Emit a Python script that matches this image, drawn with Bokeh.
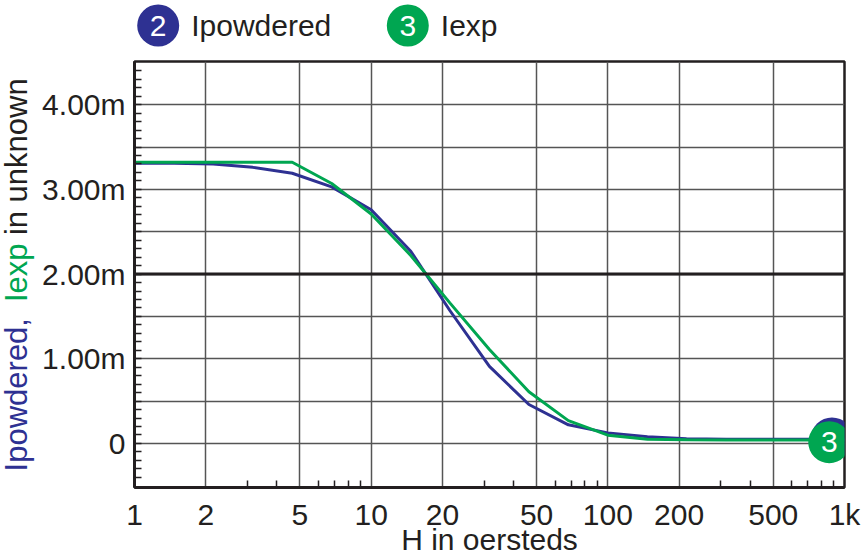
import math
from bokeh.plotting import figure
from bokeh.layouts import column, row
from bokeh.models import Range1d, FixedTicker, Span, ColumnDataSource
from bokeh.core.properties import value
from bokeh.embed import file_html
from bokeh.resources import INLINE

# ---- data ----
H = [1, 1.47, 2.15, 3.16, 4.64, 6.81, 10, 14.7, 21.5, 31.6, 46.4, 68.1,
     100, 147, 215, 316, 464, 681, 1000]
i_powdered = [3.31, 3.31, 3.30, 3.26, 3.19, 3.03, 2.76, 2.27, 1.57, 0.91, 0.46,
              0.22, 0.125, 0.08, 0.055, 0.05, 0.05, 0.05, 0.05]
i_exp = [3.32, 3.32, 3.32, 3.32, 3.32, 3.07, 2.71, 2.22, 1.66, 1.11, 0.61,
         0.27, 0.098, 0.05, 0.044, 0.04, 0.04, 0.04, 0.04]

series_names = ["Ipowdered", "Iexp"]
series_numbers = ["2", "3"]
end_marker_x = [885, 862]
end_marker_y = [0.06, 0.015]

x_ticks = [1, 2, 5, 10, 20, 50, 100, 200, 500, 1000]
x_tick_labels = ["1", "2", "5", "10", "20", "50", "100", "200", "500", "1k"]
x_minor_ticks = [3, 4, 6, 7, 8, 9, 30, 40, 60, 70, 80, 90,
                 300, 400, 600, 700, 800, 900]
y_ticks = [0, 1, 2, 3, 4]
y_tick_labels = ["0", "1.00m", "2.00m", "3.00m", "4.00m"]
y_grid_lines = [0, 0.5, 1, 1.5, 2, 2.5, 3, 3.5, 4]
y_minor_ticks = [-0.4, -0.3, -0.2, -0.1, 0.1, 0.2, 0.3, 0.4, 0.5, 0.6, 0.7, 0.8, 0.9,
                 1.1, 1.2, 1.3, 1.4, 1.5, 1.6, 1.7, 1.8, 1.9,
                 2.1, 2.2, 2.3, 2.4, 2.5, 2.6, 2.7, 2.8, 2.9,
                 3.1, 3.2, 3.3, 3.4, 3.5, 3.6, 3.7, 3.8, 3.9,
                 4.1, 4.2, 4.3, 4.4]

x_axis_title = "H in oersteds"
y_axis_title_parts = ["Ipowdered,", "Iexp", "in unknown"]

# ---- style ----
BLUE = "#2e3192"
GREEN = "#00a651"
DARK = "#231f20"
GRID = "#555555"
FONT = "Liberation Sans"
FS = "30px"

W, HGT = 864, 558
LEG_H = 59
TITLE_W = 37

y_range = Range1d(-0.52, 4.51)

# ---------- main chart ----------
p = figure(width=W - TITLE_W, height=HGT - LEG_H, x_axis_type="log",
           x_range=Range1d(1, 1000), y_range=y_range,
           output_backend="svg", toolbar_location=None,
           min_border_left=134 - TITLE_W, min_border_right=20,
           min_border_top=2, min_border_bottom=70)
p.background_fill_color = "white"
p.border_fill_color = "white"
p.outline_line_color = DARK
p.outline_line_width = 2.5

xa = p.xaxis[0]
xa.ticker = FixedTicker(ticks=x_ticks, minor_ticks=x_minor_ticks)
xa.major_label_overrides = {t: l for t, l in zip(x_ticks, x_tick_labels)}
xa.major_label_text_font = FONT
xa.major_label_text_font_size = FS
xa.major_label_text_color = DARK
xa.major_label_standoff = 10
xa.major_tick_in = 0
xa.major_tick_out = 0
xa.minor_tick_in = 7
xa.minor_tick_out = 0
xa.minor_tick_line_color = DARK
xa.minor_tick_line_width = 1.5
xa.axis_line_color = DARK
xa.axis_line_width = 3
xa.axis_label = x_axis_title
xa.axis_label_text_font = FONT
xa.axis_label_text_font_size = FS
xa.axis_label_text_font_style = "normal"
xa.axis_label_text_color = DARK
xa.axis_label_standoff = -11

ya = p.yaxis[0]
ya.ticker = FixedTicker(ticks=y_ticks, minor_ticks=y_minor_ticks)
ya.major_label_overrides = {t: l for t, l in zip(y_ticks, y_tick_labels)}
ya.major_label_text_font = FONT
ya.major_label_text_font_size = FS
ya.major_label_text_color = DARK
ya.major_label_standoff = 9
ya.major_tick_in = 7
ya.major_tick_out = 0
ya.major_tick_line_width = 1.5
ya.major_tick_line_color = DARK
ya.minor_tick_in = 7
ya.minor_tick_out = 0
ya.minor_tick_line_color = DARK
ya.minor_tick_line_width = 1.5
ya.axis_line_color = DARK
ya.axis_line_width = 3

p.xgrid.ticker = FixedTicker(ticks=x_ticks)
p.xgrid.grid_line_color = GRID
p.xgrid.grid_line_width = 1.5
p.ygrid.ticker = FixedTicker(ticks=y_grid_lines)
p.ygrid.grid_line_color = GRID
p.ygrid.grid_line_width = 1.5
p.add_layout(Span(location=2, dimension="width", line_color=DARK, line_width=3))

src = ColumnDataSource(dict(H=H, ip=i_powdered, ie=i_exp))
p.line("H", "ip", source=src, line_color=BLUE, line_width=3)
p.line("H", "ie", source=src, line_color=GREEN, line_width=3)

p.scatter(x=[end_marker_x[0]], y=[end_marker_y[0]], size=42, fill_color=BLUE, line_color=None)
p.scatter(x=[end_marker_x[1]], y=[end_marker_y[1]], size=42, fill_color=GREEN, line_color=None)
p.text(x=[end_marker_x[1]], y=[end_marker_y[1]], text=[series_numbers[1]],
       text_align="center", text_baseline="middle", text_color="white",
       text_font=value(FONT), text_font_size=FS)


def blank(width, height, xr, yr):
    f = figure(width=width, height=height, x_range=xr, y_range=yr,
               output_backend="svg", toolbar_location=None,
               x_axis_location=None, y_axis_location=None, min_border=0)
    f.outline_line_color = None
    f.xgrid.visible = False
    f.ygrid.visible = False
    f.background_fill_color = "white"
    f.border_fill_color = "white"
    return f


# ---------- legend strip (pixel space, y downward) ----------
leg = blank(W, LEG_H, Range1d(0, W), Range1d(LEG_H, 0))
leg_x = [157.7, 407.3]
leg_y = [25, 25]
leg.scatter(x=leg_x, y=leg_y, size=42, fill_color=[BLUE, GREEN], line_color=None)
leg.text(x=leg_x, y=leg_y, text=series_numbers, text_align="center",
         text_baseline="middle", text_color="white",
         text_font=value(FONT), text_font_size=FS)
leg.text(x=[x + 33 for x in leg_x], y=leg_y, text=series_names, text_align="left",
         text_baseline="middle", text_color=DARK,
         text_font=value(FONT), text_font_size=FS)

# ---------- y-axis title strip (shares the chart's vertical scale) ----------
ttl = blank(TITLE_W, HGT - LEG_H, Range1d(0, TITLE_W), y_range)
title_pos = [-0.33, 1.67, 2.46]
ttl.text(x=[16, 16, 16], y=title_pos, text=y_axis_title_parts,
         angle=math.pi / 2, text_align="left", text_baseline="middle",
         text_color=[BLUE, GREEN, DARK], text_font=value(FONT), text_font_size="31px")

layout = column(leg, row(ttl, p, spacing=0), spacing=0)
open("out.html", "w").write(file_html(layout, INLINE))
